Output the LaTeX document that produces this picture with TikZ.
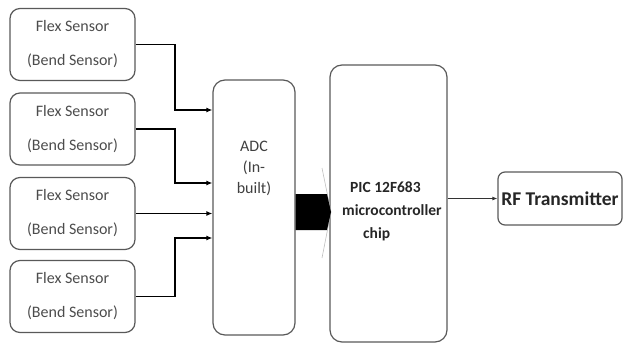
\documentclass[tikz,border=0pt]{standalone}
\usepackage{fontspec}
\setmainfont{Carlito}
\usetikzlibrary{arrows.meta}
\begin{document}
\begin{tikzpicture}[x=1pt,y=-1pt,
  sensorbox/.style={draw=black!65, line width=1.2pt, rounded corners=10pt,
    minimum width=125pt, minimum height=72pt, inner sep=0pt, align=center,
    text=black!70, font=\fontsize{16}{34}\selectfont},
  tallbox/.style={draw=black!65, line width=1.2pt, rounded corners=12pt, inner sep=0pt},
  conn/.style={line width=1.3pt, -{Latex[length=6pt,width=5pt]}}
]
\useasboundingbox (0,0) rectangle (623,345);
% sensors
\node[sensorbox] (s1) at (72.5,44.5) {Flex Sensor\\(Bend Sensor)};
\node[sensorbox] (s2) at (72.5,129) {Flex Sensor\\(Bend Sensor)};
\node[sensorbox] (s3) at (72.5,213.5) {Flex Sensor\\(Bend Sensor)};
\node[sensorbox] (s4) at (72.5,296.5) {Flex Sensor\\(Bend Sensor)};
% ADC
\node[tallbox, minimum width=82pt, minimum height=255pt] (adc) at (254,207.5) {};
\node[align=center, text=black!75, font=\fontsize{16}{21}\selectfont] (adct) at (254,168) {ADC\\(In-\\built)};
% PIC
\node[tallbox, minimum width=117pt, minimum height=277pt] (pic) at (388.5,203.5) {};
\node[anchor=west, align=left, inner sep=0pt, text=black!85, font=\bfseries\fontsize{15.5}{23}\selectfont] (pict) at (342,211) {\hspace{8pt}PIC 12F683\\microcontroller\\\hspace{21pt}chip};
% RF
\node[draw=black!65, line width=1.2pt, rounded corners=7pt, minimum width=124pt, minimum height=53pt, inner sep=0pt,
  text=black!85, font=\bfseries\fontsize{19.5}{22}\selectfont] (rf) at (560,198.5) {RF Transmitter};
% connectors
\coordinate (j1) at (175,110);
\coordinate (j2) at (175,183);
\coordinate (j4) at (175,238);
\draw[conn] (s1.east) -| (j1) -- (adc.west |- j1);
\draw[conn] (s2.east) -| (j2) -- (adc.west |- j2);
\draw[conn] (s3.east) -- (adc.west |- s3.east);
\draw[conn] (s4.east) -| (j4) -- (adc.west |- j4);
% block arrow
\coordinate (b1) at (295,194);
\coordinate (bt) at (331,212);
\draw[black!25, line width=0.6pt] (322,168) -- (bt) -- (322,258);
\fill[black] (adc.east |- b1) -- (327,194) -- (bt) -- (327,230) -- (adc.east |- 0,230) -- cycle;
% PIC to RF
\draw[line width=1pt, black!80, -{Latex[length=5pt,width=4pt]}] (pic.east |- rf.west) -- (rf.west);
\end{tikzpicture}
\end{document}
